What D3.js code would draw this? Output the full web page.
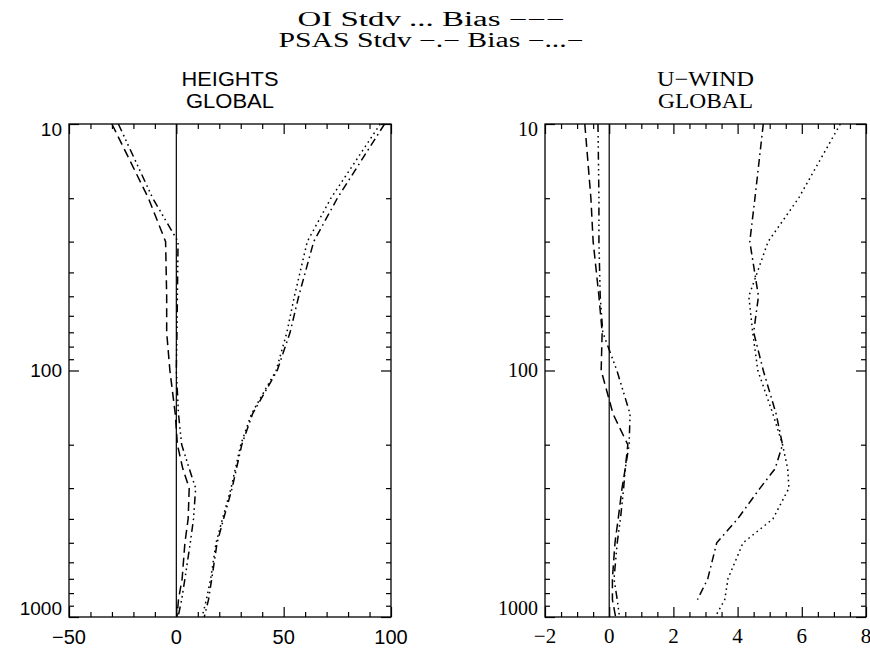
<!DOCTYPE html>
<html>
<head>
<meta charset="utf-8">
<script src="https://cdn.jsdelivr.net/npm/d3@7"></script>
<style>
  html, body { margin: 0; padding: 0; background: #fff; }
  svg { display: block; }
</style>
</head>
<body>
<svg id="chart" width="870" height="651"></svg>
<script>
// ---------------- DATA ----------------
const pressureLevels = [10, 20, 30, 50, 70, 100, 150, 200, 250, 300, 400, 500, 700, 850, 1000];

// HEIGHTS GLOBAL
const heightsOIStdv   = [95, 72, 61, 55, 51.5, 46.5, 35, 30, 27.5, 25.5, 21.5, 18.5, 16, 14, 12];
const heightsOIBias   = [-30, -13, -5, -4.5, -4.5, -3, -0.5, 0.5, 3, 6, 5.5, 4, 2.7, 1, 0.3];
const heightsPSASStdv = [97, 75, 64, 57, 53, 47, 35.5, 30.5, 28, 26, 22, 19, 16.5, 15, 13];
const heightsPSASBias = [-27, -11, 0.8, 0.5, 0.3, 0, 1, 2.5, 6, 9, 8, 6.5, 4, 2.5, 0.8];

// U-WIND GLOBAL
const windOIStdv   = [7.2, 5.9, 4.95, 4.35, 4.47, 4.63, 5.1, 5.4, 5.56, 5.6, 5.1, 4.17, 3.7, 3.6, 3.3];
const windOIBias   = [-0.76, -0.57, -0.5, -0.32, -0.22, -0.25, 0.12, 0.58, 0.5, 0.4, 0.28, 0.18, 0.1, 0.1, 0.2];
const windPSASStdv = [4.8, 4.54, 4.38, 4.65, 4.5, 4.8, 5.2, 5.4, 5.17, 4.7, 4.0, 3.35, 3.07, 2.75, null];
const windPSASBias = [-0.35, -0.32, -0.32, -0.28, -0.2, 0.24, 0.65, 0.62, 0.5, 0.45, 0.35, 0.25, 0.15, 0.25, 0.32];

const titleLines = ["OI Stdv ... Bias \u2212\u2212\u2212", "PSAS Stdv \u2212.\u2212 Bias \u2212...\u2212"];
const heightsTitle = ["HEIGHTS", "GLOBAL"];
const windTitle = ["U\u2212WIND", "GLOBAL"];
const heightsXTicks = [-50, 0, 50, 100];
const heightsXTickLabels = ["\u221250", "0", "50", "100"];
const windXTicks = [-2, 0, 2, 4, 6, 8];
const windXTickLabels = ["\u22122", "0", "2", "4", "6", "8"];
const yTicks = [10, 100, 1000];
const yTickLabels = ["10", "100", "1000"];

// ---------------- DRAW ----------------
const svg = d3.select("#chart");

const dashStyles = {
  oiStdv: "1.6,3.6",
  oiBias: "9,5",
  psasStdv: "8,4,1.6,4",
  psasBias: "8,4,1.6,3.5,1.6,3.5,1.6,4"
};

// Main title (widths matched to the reference)
const titleWidths = [267, 305];
svg.selectAll("text.maintitle").data(titleLines).enter().append("text")
  .attr("class", "maintitle")
  .attr("x", 431)
  .attr("y", (d, i) => 26 + i * 21)
  .attr("text-anchor", "middle")
  .attr("font-family", "Liberation Serif, serif")
  .attr("font-size", 20)
  .attr("textLength", (d, i) => titleWidths[i])
  .attr("lengthAdjust", "spacingAndGlyphs")
  .text(d => d);

function drawPanel(opt) {
  const g = svg.append("g");
  const x = d3.scaleLinear().domain(opt.xDomain).range([opt.left, opt.right]);
  const y = d3.scaleLog().domain([10, 1000]).range([opt.top, opt.bottom]);

  // panel title
  g.selectAll("text.ptitle").data(opt.title).enter().append("text")
    .attr("x", (opt.left + opt.right) / 2)
    .attr("y", (d, i) => 86 + i * 22)
    .attr("text-anchor", "middle")
    .attr("font-family", opt.titleFont)
    .attr("font-size", opt.titleSize)
    .attr("textLength", (d, i) => opt.titleWidths[i])
    .attr("lengthAdjust", "spacingAndGlyphs")
    .text(d => d);

  // minor tick values
  const xMinor = d3.range(opt.xDomain[0], opt.xDomain[1] + 1e-9, opt.xMinorStep)
    .filter(v => !opt.xTicks.some(t => Math.abs(t - v) < 1e-9));
  const yMinor = [];
  [10, 100].forEach(dec => { for (let k = 2; k <= 9; k++) yMinor.push(dec * k); });

  const axisStyle = sel => {
    sel.select(".domain").remove();
    sel.selectAll("line").attr("stroke", "#000").attr("stroke-width", 1.2);
  };

  // bottom axis
  g.append("g").attr("transform", `translate(0,${opt.bottom})`)
    .call(d3.axisBottom(x).tickValues(opt.xTicks).tickSize(-10).tickFormat("")).call(axisStyle);
  g.append("g").attr("transform", `translate(0,${opt.bottom})`)
    .call(d3.axisBottom(x).tickValues(xMinor).tickSize(-5).tickFormat("")).call(axisStyle);
  // top axis
  g.append("g").attr("transform", `translate(0,${opt.top})`)
    .call(d3.axisTop(x).tickValues(opt.xTicks).tickSize(-10).tickFormat("")).call(axisStyle);
  g.append("g").attr("transform", `translate(0,${opt.top})`)
    .call(d3.axisTop(x).tickValues(xMinor).tickSize(-5).tickFormat("")).call(axisStyle);
  // left axis
  g.append("g").attr("transform", `translate(${opt.left},0)`)
    .call(d3.axisLeft(y).tickValues(yTicks).tickSize(-10).tickFormat("")).call(axisStyle);
  g.append("g").attr("transform", `translate(${opt.left},0)`)
    .call(d3.axisLeft(y).tickValues(yMinor).tickSize(-5).tickFormat("")).call(axisStyle);
  // right axis
  g.append("g").attr("transform", `translate(${opt.right},0)`)
    .call(d3.axisRight(y).tickValues(yTicks).tickSize(-10).tickFormat("")).call(axisStyle);
  g.append("g").attr("transform", `translate(${opt.right},0)`)
    .call(d3.axisRight(y).tickValues(yMinor).tickSize(-5).tickFormat("")).call(axisStyle);

  // frame
  g.append("rect")
    .attr("x", opt.left).attr("y", opt.top)
    .attr("width", opt.right - opt.left).attr("height", opt.bottom - opt.top)
    .attr("fill", "none").attr("stroke", "#000").attr("stroke-width", 1.3);

  // x tick labels
  g.selectAll("text.xl").data(opt.xTicks).enter().append("text")
    .attr("x", d => x(d))
    .attr("y", opt.xLabelBaseline)
    .attr("text-anchor", "middle")
    .attr("font-family", opt.labelFont)
    .attr("font-size", opt.xLabelSize)
    .text((d, i) => opt.xTickLabels[i]);

  // y tick labels (IDL keeps the end labels inside the axis range)
  const yLabelShift = [12, 6, -2];
  g.selectAll("text.yl").data(yTicks).enter().append("text")
    .attr("x", opt.left - 7)
    .attr("y", (d, i) => y(d) + yLabelShift[i])
    .attr("text-anchor", "end")
    .attr("font-family", opt.labelFont)
    .attr("font-size", opt.yLabelSize)
    .text((d, i) => yTickLabels[i]);

  // zero line
  g.append("line")
    .attr("x1", x(0)).attr("x2", x(0))
    .attr("y1", y(10)).attr("y2", y(1000))
    .attr("stroke", "#000").attr("stroke-width", 1.2);

  // curves
  const line = d3.line()
    .defined(d => d.v !== null && d.v !== undefined)
    .x(d => x(d.v))
    .y(d => y(d.p));

  opt.series.forEach(s => {
    const pts = pressureLevels.map((p, i) => ({ p: p, v: s.values[i] }));
    g.append("path")
      .attr("d", line(pts))
      .attr("fill", "none")
      .attr("stroke", "#000")
      .attr("stroke-width", 1.5)
      .attr("stroke-dasharray", s.dash);
  });
}

drawPanel({
  left: 69, right: 391, top: 124, bottom: 617,
  xDomain: [-50, 100], xTicks: heightsXTicks, xTickLabels: heightsXTickLabels, xMinorStep: 10,
  title: heightsTitle, titleWidths: [97, 88], titleFont: "Liberation Sans, Arial, sans-serif", titleSize: 20,
  labelFont: "Liberation Sans, Arial, sans-serif", xLabelSize: 20, yLabelSize: 19, xLabelBaseline: 644,
  series: [
    { values: heightsOIStdv, dash: dashStyles.oiStdv },
    { values: heightsOIBias, dash: dashStyles.oiBias },
    { values: heightsPSASStdv, dash: dashStyles.psasStdv },
    { values: heightsPSASBias, dash: dashStyles.psasBias }
  ]
});

drawPanel({
  left: 545, right: 866, top: 124, bottom: 617,
  xDomain: [-2, 8], xTicks: windXTicks, xTickLabels: windXTickLabels, xMinorStep: 0.5,
  title: windTitle, titleWidths: [97, 95], titleFont: "Liberation Serif, serif", titleSize: 21,
  labelFont: "Liberation Serif, serif", xLabelSize: 21, yLabelSize: 20, xLabelBaseline: 643,
  series: [
    { values: windOIStdv, dash: dashStyles.oiStdv },
    { values: windOIBias, dash: dashStyles.oiBias },
    { values: windPSASStdv, dash: dashStyles.psasStdv },
    { values: windPSASBias, dash: dashStyles.psasBias }
  ]
});
</script>
</body>
</html>
